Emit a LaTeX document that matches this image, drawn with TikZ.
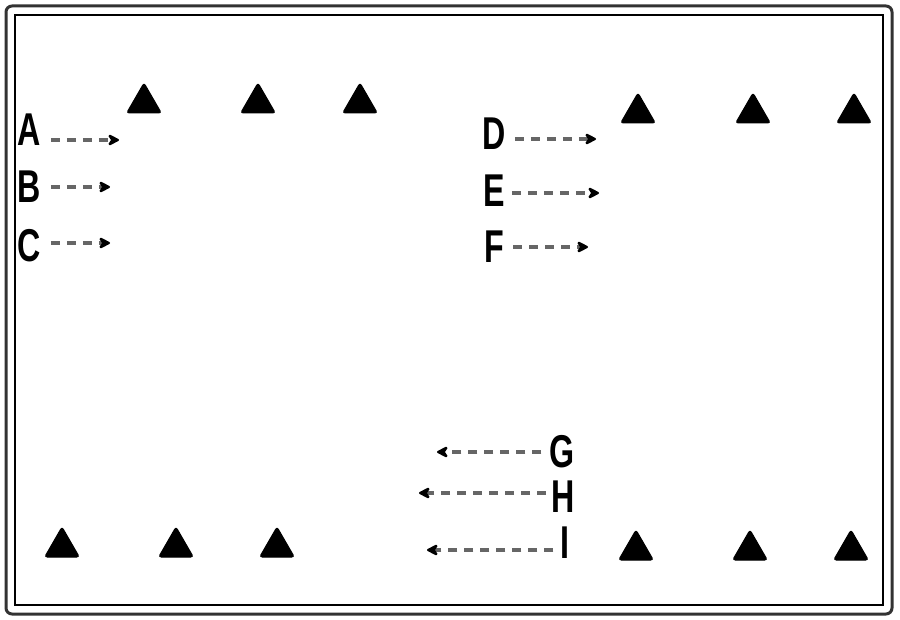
\documentclass[tikz,border=0pt]{standalone}
\usepackage{fontspec}
\setmainfont{Liberation Sans}
\usetikzlibrary{arrows.meta,shapes.geometric}
\tikzset{
  lbl/.style={inner sep=0pt, font=\bfseries\fontsize{46}{46}\selectfont},
  tri/.style={regular polygon, regular polygon sides=3, fill=black, draw=black,
    line width=1pt, rounded corners=2.5pt, minimum size=40pt, inner sep=0pt},
  arr/.style={line width=4pt, draw=black!60, dash pattern=on 9pt off 7pt,
    -{Stealth[length=14pt,width=14pt,round,black]}},
}
\newcommand{\nar}[1]{\scalebox{0.7}[1]{#1}}
\begin{document}
\begin{tikzpicture}[x=1pt,y=-1pt]
\useasboundingbox (0,0) rectangle (900,620);
% frame
\draw[line width=3pt, rounded corners=6pt, black!80] (6,6) rectangle (892,614);
\draw[line width=1.8pt] (15,15) rectangle (883,605);
% triangles top
\node[tri] (t1) at (144,103) {};
\node[tri] (t2) at (258,103) {};
\node[tri] (t3) at (360,103) {};
\node[tri] (t4) at (638,113) {};
\node[tri] (t5) at (753,113) {};
\node[tri] (t6) at (854,113) {};
% triangles bottom
\node[tri] (b1) at (62,547) {};
\node[tri] (b2) at (176,547) {};
\node[tri] (b3) at (277,547) {};
\node[tri] (b4) at (636,550) {};
\node[tri] (b5) at (750,550) {};
\node[tri] (b6) at (851,550) {};
% labels
\node[lbl] (A) at (29,130) {\nar{A}};
\node[lbl] (B) at (29,187) {\nar{B}};
\node[lbl] (C) at (29,246) {\nar{C}};
\node[lbl] (D) at (494,134) {\nar{D}};
\node[lbl] (E) at (494,191) {\nar{E}};
\node[lbl] (F) at (494,247) {\nar{F}};
\node[lbl] (G) at (562,452) {\nar{G}};
\node[lbl] (H) at (563,497) {\nar{H}};
\node[lbl] (I) at (565,543) {\nar{I}};
% arrow ends
\coordinate (Ae) at (119,140);
\coordinate (Be) at (110,187);
\coordinate (Ce) at (110,243);
\coordinate (De) at (596,139);
\coordinate (Ee) at (599,193);
\coordinate (Fe) at (588,247);
\coordinate (Ge) at (437,452);
\coordinate (He) at (419,493);
\coordinate (Ie) at (427,550);
% arrows
\draw[arr] ([xshift=10pt]A.east |- Ae) -- (Ae);
\draw[arr] ([xshift=10pt]B.east |- Be) -- (Be);
\draw[arr] ([xshift=10pt]C.east |- Ce) -- (Ce);
\draw[arr] ([xshift=9pt]D.east |- De) -- (De);
\draw[arr] ([xshift=7pt]E.east |- Ee) -- (Ee);
\draw[arr] ([xshift=9pt]F.east |- Fe) -- (Fe);
\draw[arr] ([xshift=-8pt]G.west |- Ge) -- (Ge);
\draw[arr] ([xshift=-5pt]H.west |- He) -- (He);
\draw[arr] ([xshift=-7pt]I.west |- Ie) -- (Ie);
\end{tikzpicture}
\end{document}
